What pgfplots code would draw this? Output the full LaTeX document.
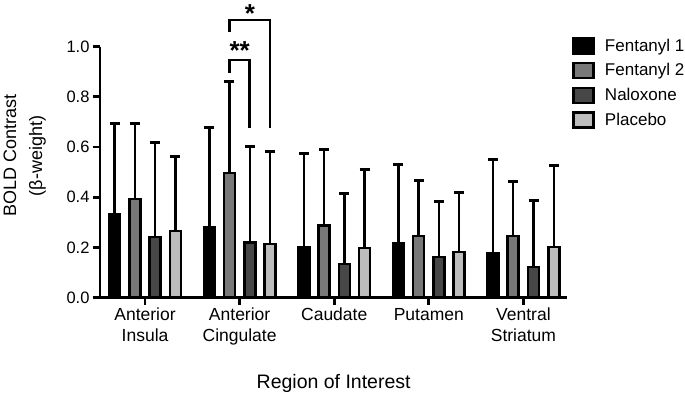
\documentclass[border=0pt]{standalone}
\usepackage{fontspec}
\setmainfont{Liberation Sans}
\usepackage{pgfplots}
\pgfplotsset{compat=1.18}
\definecolor{fone}{HTML}{000000}
\definecolor{ftwo}{HTML}{787878}
\definecolor{nal}{HTML}{474747}
\definecolor{plc}{HTML}{BDBDBD}
\pgfplotsset{
  mybar/.style={ybar, bar width=11bp, bar shift=0pt, draw=black, line width=2.5bp,
    error bars/y dir=plus, error bars/y explicit,
    error bars/error bar style={line width=2.5bp, black, solid},
    error bars/error mark options={rotate=90, line width=3bp, mark size=5bp, black, solid}},
}
\begin{document}
\begin{tikzpicture}
\begin{axis}[
  at={(0,0)}, anchor=south west,
  scale only axis,
  width=467.3bp, height=251bp,
  xmin=-0.476, xmax=4.464,
  ymin=0, ymax=1,
  clip=false,
  axis x line*=bottom, axis y line*=left,
  axis line style={line width=2.8bp, black},
  ytick={0,0.2,0.4,0.6,0.8,1.0},
  xtick={0,1,2,3,4},
  xticklabels={{Anterior\\Insula},{Anterior\\Cingulate},Caudate,Putamen,{Ventral\\Striatum}},
  xticklabel style={align=center, font=\fontsize{17.5bp}{21bp}\selectfont},
  yticklabel style={font=\fontsize{16.5bp}{19bp}\selectfont, /pgf/number format/.cd, fixed, fixed zerofill, precision=1, assume math mode=true},
  tick align=outside,
  major tick length=7bp,
  tick style={line width=2.8bp, black},
  xlabel={Region of Interest},
  xlabel style={font=\fontsize{19.5bp}{22bp}\selectfont, at={(rel axis cs:0.5,0)}, anchor=base, yshift=-90.8bp},
  ylabel={BOLD Contrast\\[5bp](β-weight)},
  ylabel style={font=\fontsize{18bp}{21bp}\selectfont, align=center, at={(rel axis cs:0,0.565)}, anchor=center, yshift=75.3bp},
  legend style={at={(1,1)}, anchor=north west, xshift=2bp, yshift=12bp, draw=none, fill=none,
    font=\fontsize{17bp}{19bp}\selectfont, row sep=7bp,
    /tikz/every odd column/.append style={column sep=8bp}},
  legend cell align=left,
  every axis plot post/.append style={legend image code/.code={\draw[##1, /tikz/.cd, line width=2.5bp, draw=black, solid] (0bp,-7.5bp) rectangle (20bp,7.5bp);}},
]
\addplot[fill=fone, mybar] coordinates {
  (-0.321,0.332) +- (0,0.363) (0.679,0.282) +- (0,0.398) (1.679,0.202) +- (0,0.373) (2.679,0.217) +- (0,0.312) (3.679,0.179) +- (0,0.370)};
\addlegendentry{Fentanyl 1}
\addplot[fill=ftwo, mybar] coordinates {
  (-0.108,0.394) +- (0,0.301) (0.892,0.497) +- (0,0.364) (1.892,0.287) +- (0,0.303) (2.892,0.246) +- (0,0.222) (3.892,0.246) +- (0,0.218)};
\addlegendentry{Fentanyl 2}
\addplot[fill=nal, mybar] coordinates {
  (0.108,0.242) +- (0,0.375) (1.108,0.219) +- (0,0.385) (2.108,0.135) +- (0,0.281) (3.108,0.163) +- (0,0.222) (4.108,0.122) +- (0,0.266)};
\addlegendentry{Naloxone}
\addplot[fill=plc, mybar] coordinates {
  (0.321,0.266) +- (0,0.298) (1.321,0.214) +- (0,0.370) (2.321,0.199) +- (0,0.310) (3.321,0.183) +- (0,0.235) (4.321,0.202) +- (0,0.323)};
\addlegendentry{Placebo}
% significance brackets
\addplot[black, line width=2.8bp, forget plot, mark=none] coordinates {(0.892,0.896) (0.892,0.947) (1.108,0.947) (1.108,0.677)};
\addplot[black, line width=2.8bp, forget plot, mark=none] coordinates {(0.892,1.060) (0.892,1.106) (1.322,1.106) (1.322,0.677)};
\node[font=\bfseries\fontsize{26bp}{26bp}\selectfont, anchor=base] at (axis cs:1.0,0.950) {**};
\node[font=\bfseries\fontsize{26bp}{26bp}\selectfont, anchor=base] at (axis cs:1.11,1.098) {*};
\end{axis}
\pgfresetboundingbox
\path[use as bounding box] (-100bp,-97.3bp) rectangle (585bp,297.7bp);
\end{tikzpicture}
\end{document}
